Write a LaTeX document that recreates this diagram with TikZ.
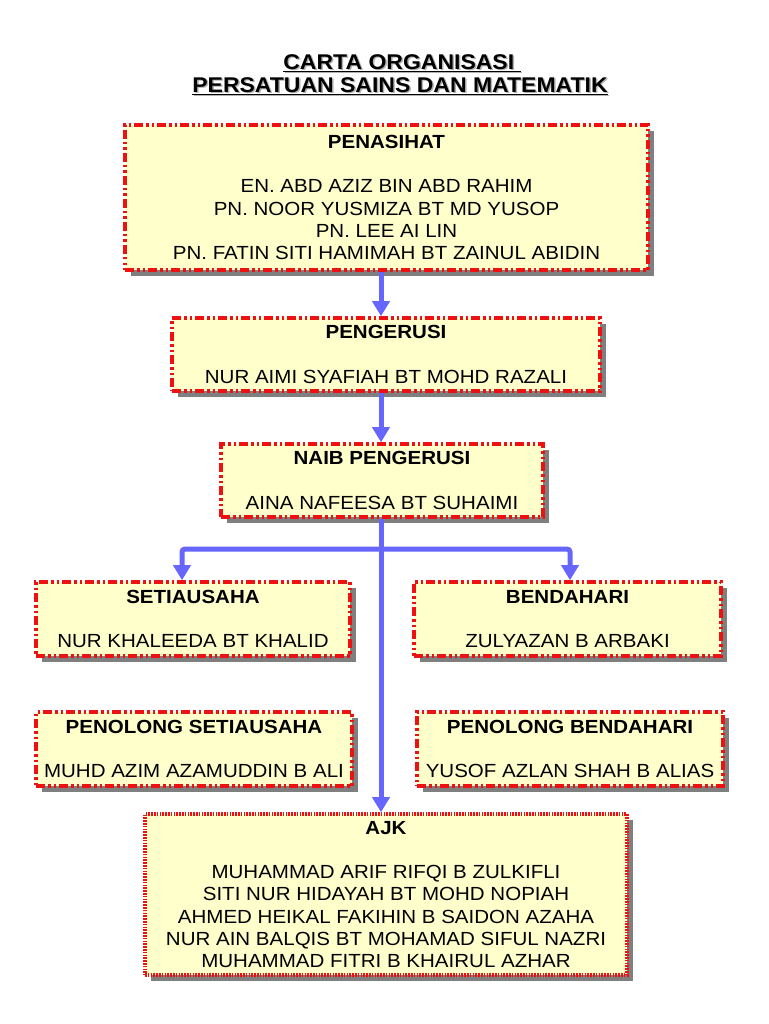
\documentclass[tikz,border=0pt]{standalone}
\usepackage{fontspec}
\setmainfont[FakeStretch=1.08]{Liberation Sans}
\usetikzlibrary{arrows.meta,shadows}
\definecolor{boxfill}{HTML}{FFFFCC}
\definecolor{boxred}{HTML}{EE1111}
\definecolor{arrblue}{HTML}{6666FF}
\definecolor{shadowgray}{HTML}{7F7F7F}
\tikzset{
  orgbox/.style={draw=boxred, fill=boxfill, line width=3.6pt,
    dash pattern=on 9pt off 3pt on 2.5pt off 3pt on 2.5pt off 3pt,
    align=center, inner sep=0pt,
    font=\fontsize{19}{22.3}\selectfont,
    drop shadow={shadow xshift=6pt, shadow yshift=-6pt, fill=shadowgray, opacity=1}},
  ajkbox/.style={orgbox, dash pattern=on 1.6pt off 1.2pt},
  arr/.style={draw=arrblue, line width=5pt, -{Triangle[width=17pt,length=15pt]}},
  ttl/.style={font=\fontsize{21.3}{24}\selectfont\bfseries}
}
\begin{document}
\begin{tikzpicture}[x=1pt,y=-1pt]
\useasboundingbox[fill=white] (0,0) rectangle (768,1024);
% title
\node[ttl, text=gray!60] (t1s) at (403.5,64.5) {\underline{CARTA ORGANISASI\ }};
\node[ttl, text=gray!60] (t2s) at (401.5,87.5) {\underline{PERSATUAN SAINS DAN MATEMATIK}};
\node[ttl] (t1) at (402,63) {\underline{CARTA ORGANISASI\ }};
\node[ttl] (t2) at (400,86) {\underline{PERSATUAN SAINS DAN MATEMATIK}};
% boxes
\node[orgbox, minimum width=523pt, minimum height=145pt] (pen) at (386.5,197.5)
  {\textbf{PENASIHAT}\\[22.3pt]
   EN. ABD AZIZ BIN ABD RAHIM\\
   PN. NOOR YUSMIZA BT MD YUSOP\\
   PN. LEE AI LIN\\
   PN. FATIN SITI HAMIMAH BT ZAINUL ABIDIN};
\node[orgbox, minimum width=428pt, minimum height=73pt] (peng) at (386,354.5)
  {\textbf{PENGERUSI}\\[22.3pt] NUR AIMI SYAFIAH BT MOHD RAZALI};
\node[orgbox, minimum width=322pt, minimum height=73pt] (naib) at (382,480.5)
  {\textbf{NAIB PENGERUSI}\\[22.3pt] AINA NAFEESA BT SUHAIMI};
\node[orgbox, minimum width=314pt, minimum height=74pt] (seti) at (193,619)
  {\textbf{SETIAUSAHA}\\[22.3pt] NUR KHALEEDA BT KHALID};
\node[orgbox, minimum width=307pt, minimum height=74pt] (bend) at (567.5,619)
  {\textbf{BENDAHARI}\\[22.3pt] ZULYAZAN B ARBAKI};
\node[orgbox, minimum width=316pt, minimum height=74pt] (pseti) at (194,749)
  {\textbf{PENOLONG SETIAUSAHA}\\[22.3pt] MUHD AZIM AZAMUDDIN B ALI};
\node[orgbox, minimum width=306pt, minimum height=74pt] (pbend) at (570,749)
  {\textbf{PENOLONG BENDAHARI}\\[22.3pt] YUSOF AZLAN SHAH B ALIAS};
\node[ajkbox, minimum width=482pt, minimum height=161pt] (ajk) at (386,894.5)
  {\textbf{AJK}\\[22.3pt]
   MUHAMMAD ARIF RIFQI B ZULKIFLI\\
   SITI NUR HIDAYAH BT MOHD NOPIAH\\
   AHMED HEIKAL FAKIHIN B SAIDON AZAHA\\
   NUR AIN BALQIS BT MOHAMAD SIFUL NAZRI\\
   MUHAMMAD FITRI B KHAIRUL AZHAR};
% connectors
\coordinate (sp) at (381,0);
\coordinate (jn) at (381,549);
\coordinate (sl) at (182,549);
\coordinate (sr) at (570,549);
\draw[arr] (sp |- pen.south) -- (sp |- peng.north);
\draw[arr] (sp |- peng.south) -- (sp |- naib.north);
\draw[arr, rounded corners=3pt] (jn) -- (sl) -- (sl |- seti.north);
\draw[arr, rounded corners=3pt] (jn) -- (sr) -- (sr |- bend.north);
\draw[arr] (sp |- naib.south) -- (sp |- ajk.north);
\end{tikzpicture}
\end{document}
